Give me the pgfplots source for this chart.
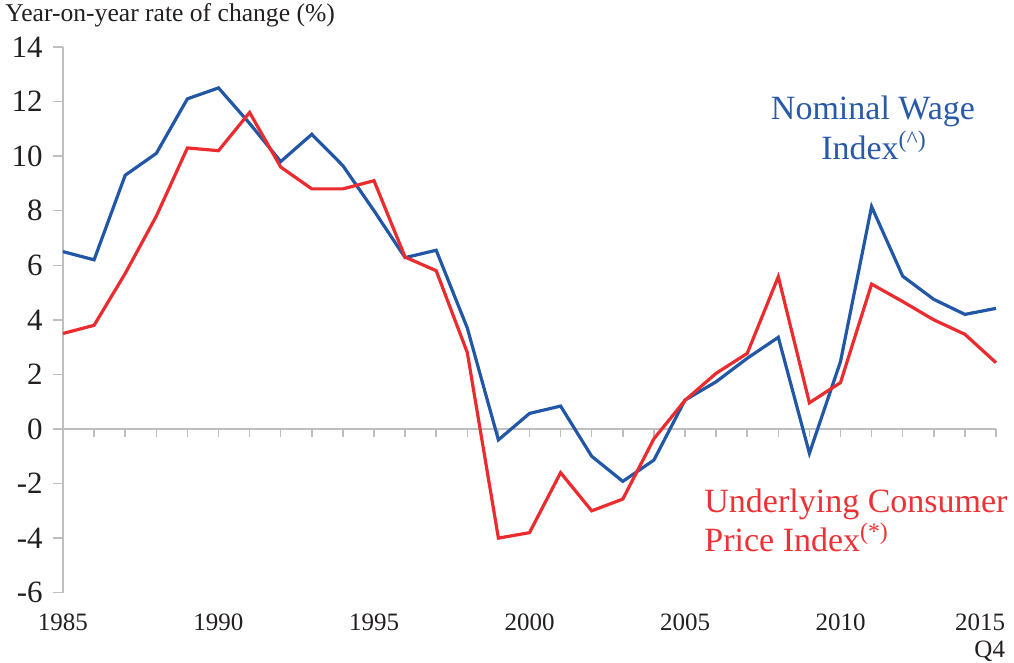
\documentclass[border=0pt]{standalone}
\usepackage{fontspec}
\setmainfont{Liberation Serif}
\usepackage{pgfplots}
\usepackage{pgfplotstable}
\pgfplotsset{compat=1.18}
\definecolor{wageblue}{RGB}{34,87,166}
\definecolor{cpired}{RGB}{236,43,46}
\definecolor{axgray}{RGB}{190,190,190}
\definecolor{txt}{RGB}{35,31,32}
\definecolor{wagetxt}{RGB}{40,90,168}
\definecolor{cpitxt}{RGB}{236,50,52}

\pgfplotstableread{
year wage cpi
1985 6.5 3.5
1986 6.2 3.8
1987 9.3 5.7
1988 10.1 7.8
1989 12.1 10.3
1990 12.5 10.2
1991 11.2 11.6
1992 9.8 9.6
1993 10.8 8.8
1994 9.65 8.8
1995 8.0 9.1
1996 6.28 6.3
1997 6.55 5.8
1998 3.7 2.8
1999 -0.4 -4.0
2000 0.57 -3.8
2001 0.84 -1.6
2002 -1.0 -3.0
2003 -1.92 -2.57
2004 -1.14 -0.36
2005 1.06 1.05
2006 1.73 2.04
2007 2.59 2.77
2008 3.36 5.58
2009 -0.89 0.96
2010 2.47 1.70
2011 8.15 5.31
2012 5.6 4.67
2013 4.75 4.0
2014 4.2 3.47
2015 4.42 2.43
}\datatable

\begin{document}
\begin{tikzpicture}
\useasboundingbox (0,0) rectangle (507pt,331.5pt);
\begin{axis}[
  at={(31.5pt,35.15pt)}, anchor=south west,
  scale only axis, width=466.5pt, height=272.85pt,
  xmin=1985, xmax=2015, ymin=-6, ymax=14,
  axis y line*=left, axis x line*=bottom,
  x axis line style={draw=none},
  y axis line style={axgray, line width=0.75pt},
  xtick={1985,1990,1995,2000,2005,2010},
  xticklabels={1985,1990,1995,2000,2005,2010},
  extra x ticks={2015},
  extra x tick labels={2015\\Q4},
  extra x tick style={xticklabel style={xshift=-8pt, align=right}},
  x tick style={draw=none},
  ytick={-6,-4,...,14},
  y tick style={axgray, line width=0.75pt},
  tick align=outside, major tick length=5pt,
  /pgf/number format/assume math mode=true,
  ticklabel style={text=txt},
  xticklabel style={font=\fontsize{12.5}{13.5}\selectfont, yshift=-2pt},
  yticklabel style={font=\fontsize{15.5}{16}\selectfont, inner sep=0pt, xshift=-5pt},
  clip=false,
]
\draw[axgray, line width=0.75pt] (axis cs:1985,0) -- (axis cs:2015,0);
\pgfplotsinvokeforeach{1986,...,2015}{\draw[axgray, line width=0.75pt] (axis cs:#1,0) -- ([yshift=-3.9pt]axis cs:#1,0);}
\addplot[wageblue, line width=1.6pt, line join=miter, mark=none] table[x=year,y=wage]{\datatable};
\addplot[cpired, line width=1.6pt, line join=miter, mark=none] table[x=year,y=cpi]{\datatable};
\end{axis}
\node[anchor=base west, inner sep=0pt, text=txt, font=\fontsize{12.8}{15}\selectfont] at (2.5pt,320.5pt) {Year-on-year rate of change (\%)};
\node[anchor=base, inner sep=0pt, text=wagetxt, font=\fontsize{17}{20}\selectfont] at (436.5pt,271.5pt) {Nominal Wage};
\node[anchor=base, inner sep=0pt, text=wagetxt, font=\fontsize{17}{20}\selectfont] at (437pt,251.5pt) {Index\textsuperscript{(\textasciicircum)}};
\node[anchor=base west, inner sep=0pt, text=cpitxt, font=\fontsize{17}{20}\selectfont] at (352pt,75pt) {Underlying Consumer};
\node[anchor=base west, inner sep=0pt, text=cpitxt, font=\fontsize{17}{20}\selectfont] at (352pt,55.65pt) {Price Index\textsuperscript{(*)}};
\end{tikzpicture}
\end{document}
